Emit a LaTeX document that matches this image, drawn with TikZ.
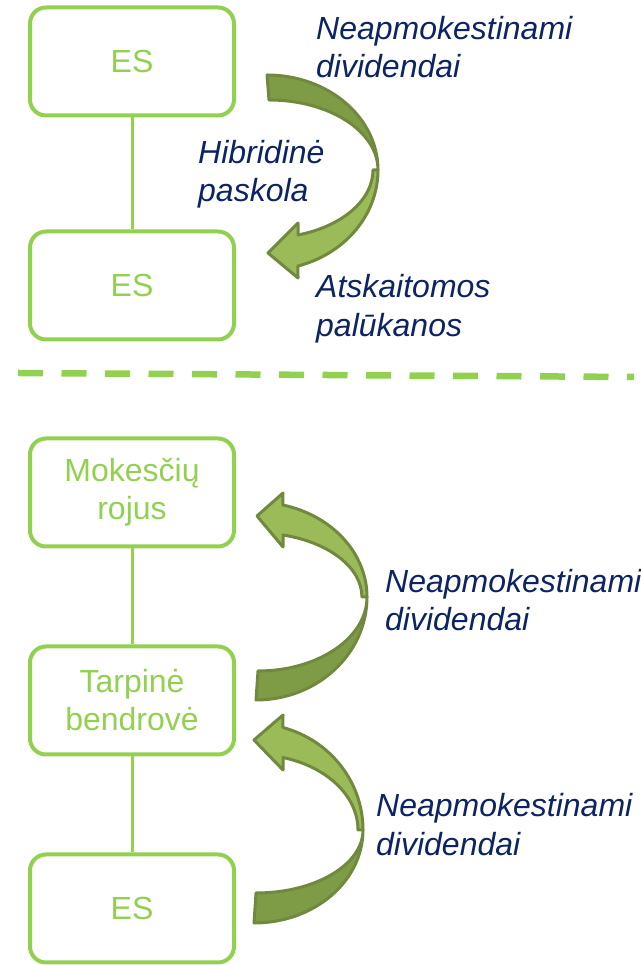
\documentclass[tikz,border=0pt]{standalone}
\usepackage{fontspec}
\setmainfont{Liberation Sans}
\usetikzlibrary{positioning}

\definecolor{boxgreen}{HTML}{92D050}
\definecolor{labelblue}{RGB}{12,35,100}
\definecolor{arrowline}{HTML}{71893F}
\definecolor{arrowlight}{HTML}{9BBB59}
\definecolor{arrowdark}{HTML}{7E9B45}

\begin{document}
\begin{tikzpicture}[
            x = 1pt, y = 1pt, % one unit is one pixel of the reference
            node distance = 96pt
        ]

        \tikzstyle{entity}=[
            draw = boxgreen,
            line width = 4pt,
            rounded corners = 16pt,
            minimum width = 204pt,
            minimum height = 108pt,
            align = center,
            text = boxgreen,
            font = \fontsize{32}{38}\selectfont
        ]
        \tikzstyle{link}=[draw = boxgreen, line width = 3pt]
        \tikzstyle{flow}=[
            text = labelblue,
            anchor = west,
            inner sep = 0pt,
            align = left,
            font = \fontsize{32}{38.5}\selectfont\itshape
        ]
        \tikzstyle{tailpart}=[fill = arrowdark, draw = arrowline, line width = 3pt, line join = round]
        \tikzstyle{headpart}=[fill = arrowlight, draw = arrowline, line width = 3pt, line join = round]

        \useasboundingbox (0,0) rectangle (640,965);

        % companies
        \node[entity] (ES1) at (132,903.5) {ES};
        \node[entity] (ES2) [below=112pt of ES1] {ES};
        \node[entity] (HAVEN) [below=95pt of ES2] {Mokesčių\\rojus};
        \node[entity] (MID) [below=96pt of HAVEN] {Tarpinė\\bendrovė};
        \node[entity] (ES3) [below=96pt of MID] {ES};

        \path[link] (ES1) -- (ES2);
        \path[link] (HAVEN) -- (MID);
        \path[link] (MID) -- (ES3);

        % separator
        \draw[boxgreen, line width = 6.5pt, dash pattern = on 25pt off 18.5pt] (18,592) -- (634,588);

        % hybrid loan arrow
        \path[tailpart] (267,890) arc[start angle=90, end angle=0, x radius=111, y radius=95]
            arc[start angle=0, end angle=90, x radius=109, y radius=70] -- cycle;
        \path[headpart] (378,795) arc[start angle=0, end angle=-73.8, x radius=111, y radius=100]
            -- (298,687) -- (268,712) -- (298,742) -- (298,730)
            arc[start angle=-73, end angle=0, x radius=106, y radius=68] -- cycle;

        % dividends from the intermediate company
        \path[tailpart] (256,265) arc[start angle=-90, end angle=0, x radius=111, y radius=103]
            arc[start angle=0, end angle=-90, x radius=109, y radius=74] -- cycle;
        \path[headpart] (367,368) arc[start angle=0, end angle=76, x radius=111, y radius=94.8]
            -- (283,472) -- (257,449) -- (283,418) -- (283,430)
            arc[start angle=75.2, end angle=0, x radius=106, y radius=64.1] -- cycle;

        % dividends from the bottom company
        \path[tailpart] (254,42) arc[start angle=-90, end angle=0, x radius=109, y radius=93]
            arc[start angle=0, end angle=-90, x radius=107, y radius=63] -- cycle;
        \path[headpart] (363,135) arc[start angle=0, end angle=74.6, x radius=109, y radius=106.3]
            -- (283,250) -- (254,225) -- (283,195) -- (283,207.5)
            arc[start angle=73.8, end angle=0, x radius=104, y radius=75.5] -- cycle;

        % labels
        \node[flow] (DIV1) at (316,918) {Neapmokestinami\\dividendai};
        \node[flow] (LOAN) at (198,791) {Hibridinė\\paskola};
        \node[flow] (INT) at (316,656.5) {Atskaitomos\\palūkanos};
        \node[flow] (DIV2) at (385,365) {Neapmokestinami\\dividendai};
        \node[flow] (DIV3) at (376,140.5) {Neapmokestinami\\dividendai};

    \end{tikzpicture}
\end{document}
